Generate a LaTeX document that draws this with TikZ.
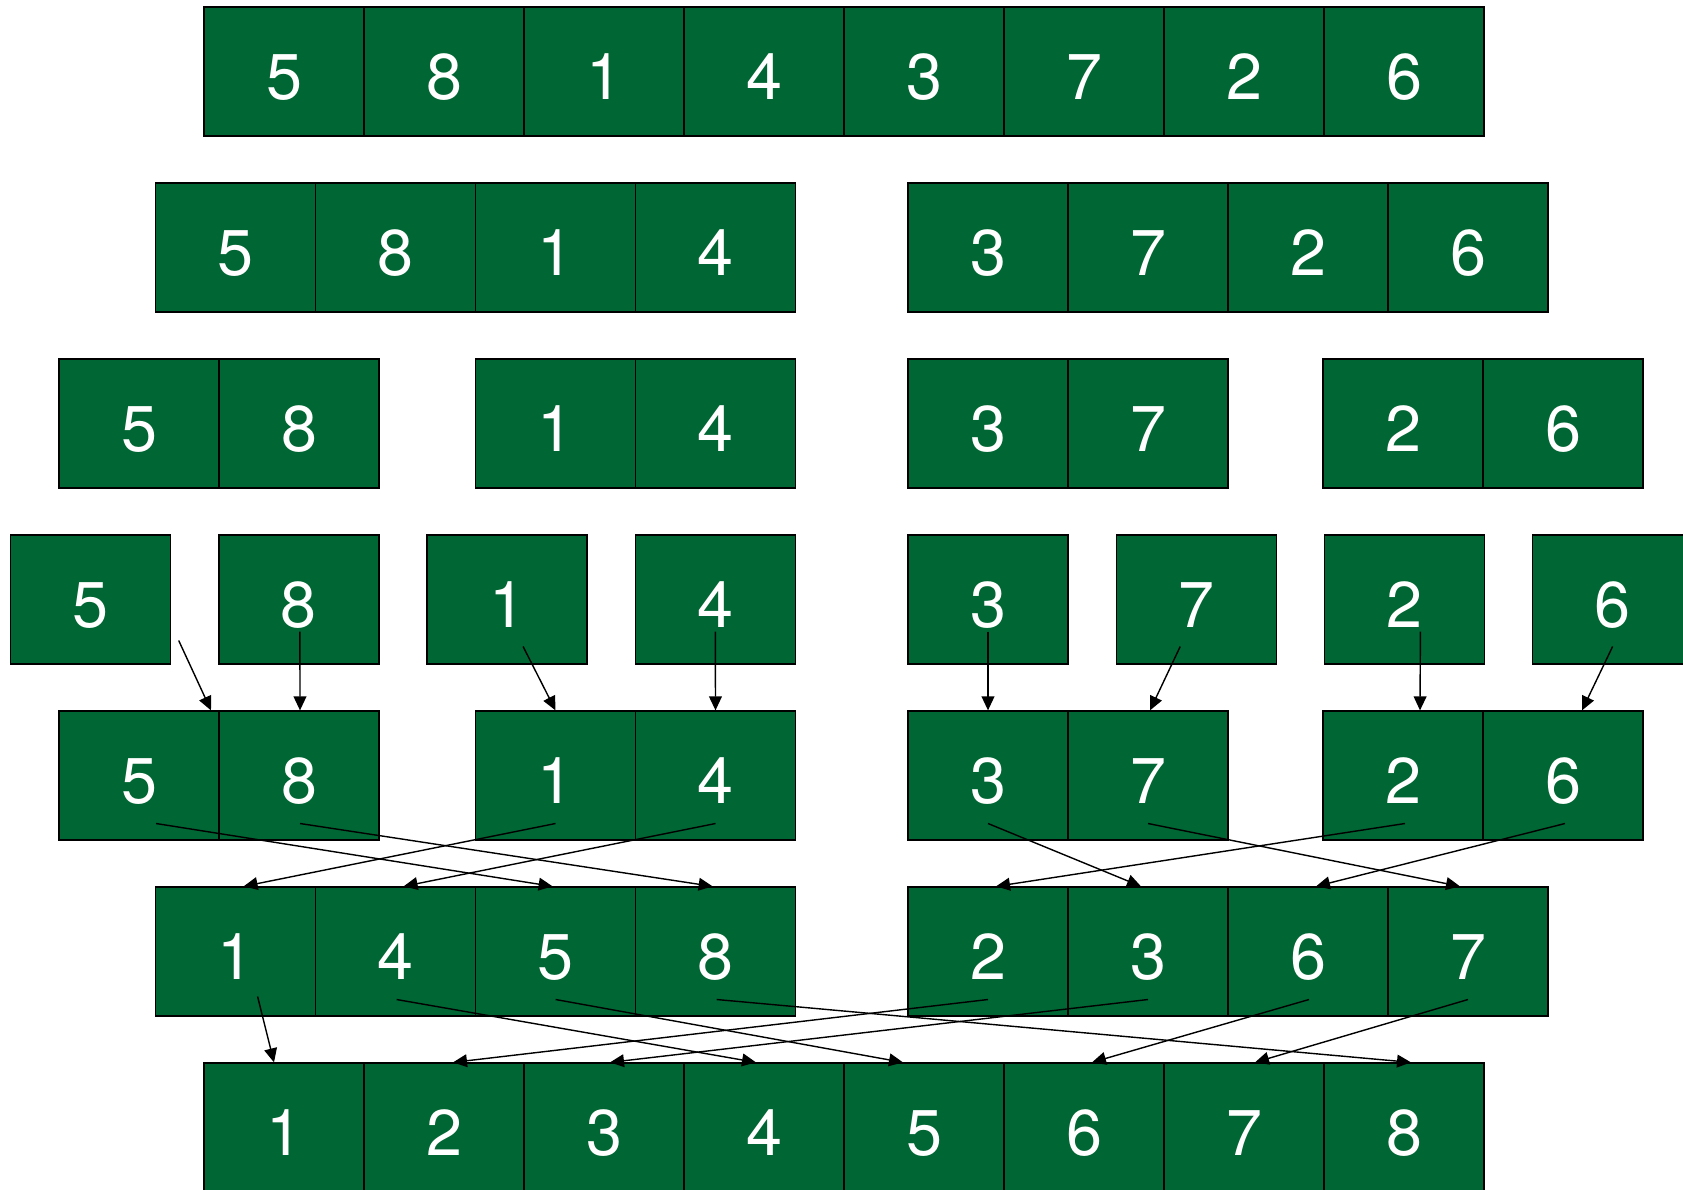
\documentclass[tikz,border=0pt]{standalone}
\usepackage{fontspec}
\setmainfont{TeX Gyre Heros}
\usetikzlibrary{arrows.meta, calc}
\definecolor{cellgreen}{HTML}{006633}

\begin{document}
\begin{tikzpicture}[x=0.25mm, y=-0.25mm,
  cell/.style={draw=black, line width=0.9pt, fill=cellgreen, text=white,
    minimum width=40mm, minimum height=32.25mm, inner sep=0pt,
    font=\fontsize{46}{50}\selectfont, text height=16mm, text depth=2mm},
  arr/.style={-{Triangle[length=3.5mm, width=3.2mm]}, line width=1pt}]
  \useasboundingbox (0,0) rectangle (1683,1189);

  % Split: whole array, halves, pairs, singles.
  \foreach \v/\x [count=\i] in {5/284,8/444,1/604,4/764,3/924,7/1084,2/1244,6/1404}
    \node[cell] (r1c\i) at (\x,71.5) {\v};
  \foreach \v/\x [count=\i] in {5/235.6,8/395.6,1/555.6,4/715.6,3/988,7/1148,2/1308,6/1468}
    \node[cell] (r2c\i) at (\x,247.5) {\v};
  \foreach \v/\x [count=\i] in {5/139,8/299,1/555.5,4/715.5,3/988,7/1148,2/1403,6/1563}
    \node[cell] (r3c\i) at (\x,423.5) {\v};
  \foreach \v/\x [count=\i] in {5/90.7,8/298.9,1/507.1,4/715.3,3/988,7/1196.2,2/1404.4,6/1612.6}
    \node[cell] (r4c\i) at (\x,599.5) {\v};

  % Merge: sorted pairs, sorted halves, result.
  \foreach \v/\x [count=\i] in {5/139,8/299,1/555.5,4/715.5,3/988,7/1148,2/1403,6/1563}
    \node[cell] (r5c\i) at (\x,775.5) {\v};
  \foreach \v/\x [count=\i] in {1/235.6,4/395.6,5/555.6,8/715.6,2/988,3/1148,6/1308,7/1468}
    \node[cell] (r6c\i) at (\x,951.5) {\v};
  \foreach \v/\x [count=\i] in {1/284,2/444,3/604,4/764,5/924,6/1084,7/1244,8/1404}
    \node[cell] (r7c\i) at (\x,1127.5) {\v};

  % Merge arrows (source, start offset, target, end offset).
  \foreach \s/\sx/\sy/\t/\tx in {r4c1/88/41/r5c1/72, r4c2/1/32/r5c2/1,
      r4c3/16/47/r5c3/0, r4c4/0/32/r5c4/0, r4c5/0/32/r5c5/0,
      r4c6/-16/47/r5c6/2, r4c7/16/32/r5c7/17, r4c8/0/47/r5c8/19}
    \draw[arr] ($(\s.center)+(\sx,\sy)$) -- ($(\t.north)+(\tx,0)$);
  \foreach \s/\sx/\sy/\t/\tx in {r5c1/17/48/r6c3/-3, r5c2/1/48/r6c4/-3,
      r5c3/0/48/r6c1/8, r5c4/0/48/r6c2/8, r5c5/0/48/r6c6/-7,
      r5c6/0/48/r6c8/-8, r5c7/2/48/r6c5/8, r5c8/2/48/r6c7/8}
    \draw[arr] ($(\s.center)+(\sx,\sy)$) -- ($(\t.north)+(\tx,0)$);
  \foreach \s/\sx/\sy/\t/\tx in {r6c1/22/45/r7c1/-10, r6c2/1/48/r7c4/-8,
      r6c3/0/48/r7c5/-21, r6c4/1/48/r7c8/7, r6c5/0/48/r7c2/9,
      r6c6/0/48/r7c3/6, r6c7/1/48/r7c6/8, r6c8/0/48/r7c7/11}
    \draw[arr] ($(\s.center)+(\sx,\sy)$) -- ($(\t.north)+(\tx,0)$);
\end{tikzpicture}
\end{document}
